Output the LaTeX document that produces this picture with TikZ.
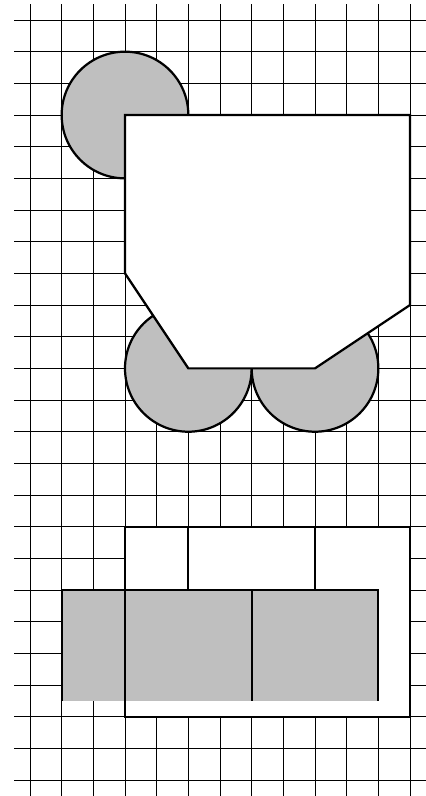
\documentclass[tikz,border=0pt]{standalone}
\usepackage{tikz}

\tikzset{
  gridline/.style={line width=0.8pt},
  outline/.style={line width=2pt},
  disc/.style={outline,fill=lightgray}
}

\begin{document}
\begin{tikzpicture}
  \useasboundingbox (-0.947,0.632) rectangle (12.504,-24.503);

  \foreach \i in {0,...,12}
    \draw[gridline] (\i,0.5) -- (\i,-24.5);
  \foreach \j in {0,...,24}
    \draw[gridline] (-0.5,-\j) -- (12.5,-\j);

  \coordinate (topleft) at (3,-3);
  \coordinate (topright) at (12,-3);
  \coordinate (rightcorner) at (12,-9);
  \coordinate (bottomright) at (9,-11);
  \coordinate (bottomleft) at (5,-11);
  \coordinate (leftcorner) at (3,-8);

  \coordinate (framenw) at (3,-16);
  \coordinate (framese) at (12,-22);
  \coordinate (sepa) at (5,-16);
  \coordinate (sepb) at (9,-16);
  \coordinate (sepafoot) at (5,-18);
  \coordinate (sepbfoot) at (9,-18);
  \coordinate (framesw) at (3,-22);
  \coordinate (grayfoot) at (1,-21.5);
  \coordinate (graynw) at (1,-18);
  \coordinate (grayne) at (11,-18);
  \coordinate (grayse) at (11,-21.5);
  \coordinate (graymid) at (7,-18);
  \coordinate (graymidfoot) at (7,-21.5);

  \draw[disc] (topleft) circle (2);
  \draw[disc] (bottomleft) circle (2);
  \draw[disc] (bottomright) circle (2);
  \draw[outline,fill=white] (topleft) -- (topright) -- (rightcorner) -- (bottomright)
    -- (bottomleft) -- (leftcorner) -- cycle;

  \draw[outline,fill=white] (framenw) rectangle (framese);
  \draw[outline] (sepa) -- (sepafoot);
  \draw[outline] (sepb) -- (sepbfoot);
  \fill[lightgray] (graynw) rectangle (grayse);
  \draw[outline] (grayfoot) -- (graynw) -- (grayne) -- (grayse);
  \draw[outline] (framenw) -- (framesw);
  \draw[outline] (graymid) -- (graymidfoot);
\end{tikzpicture}
\end{document}
